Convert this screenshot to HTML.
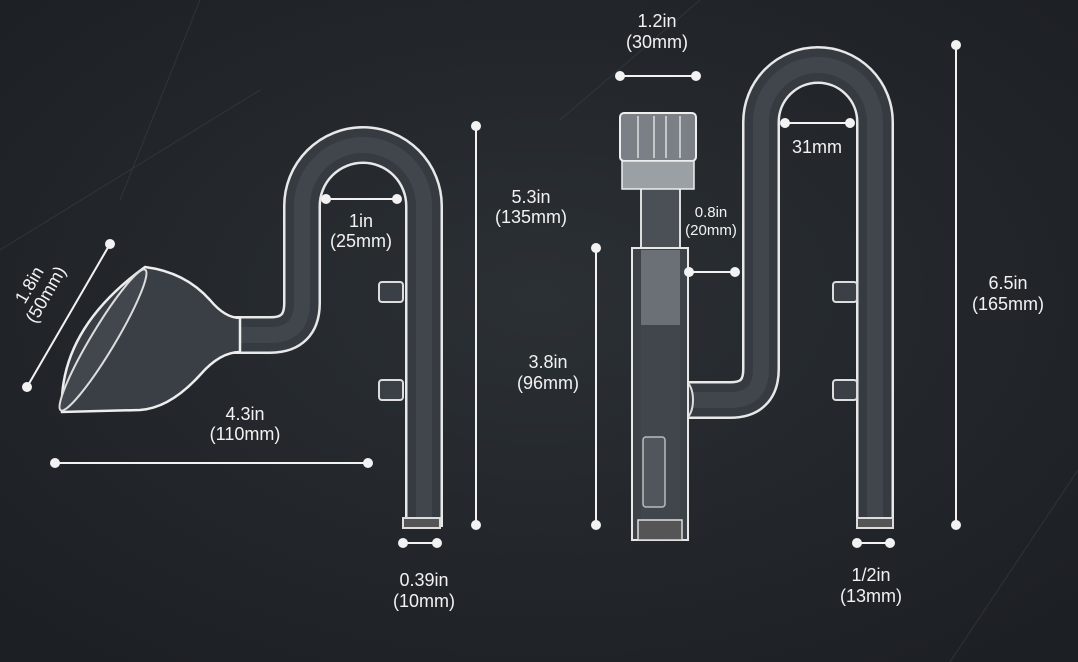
<!DOCTYPE html>
<html><head><style>
html,body{margin:0;padding:0;background:#24282d;}
svg{display:block}
text{font-family:"Liberation Sans",sans-serif;fill:#f2f2f2;font-size:18px;text-anchor:middle}
</style></head><body>
<svg width="1078" height="662" viewBox="0 0 1078 662" xmlns="http://www.w3.org/2000/svg">
<defs>
<radialGradient id="bg" cx="50%" cy="45%" r="70%">
<stop offset="0" stop-color="#2b3035"/><stop offset="1" stop-color="#1c1f23"/>
</radialGradient>
</defs>
<rect width="1078" height="662" fill="url(#bg)"/>
<g stroke="#3a4047" stroke-width="1" opacity="0.6">
<line x1="0" y1="250" x2="260" y2="90"/><line x1="950" y1="662" x2="1078" y2="470"/>
<line x1="200" y1="0" x2="120" y2="200"/><line x1="700" y1="0" x2="560" y2="120"/>
</g>

<g fill="none" stroke-linecap="butt" stroke-linejoin="round">
<path d="M230 335 L270 335 Q302 335 302 303 L302 206 A61 61 0 0 1 424 206 L424 527" stroke="#e8e8e8" stroke-width="38"/>
<path d="M230 335 L270 335 Q302 335 302 303 L302 206 A61 61 0 0 1 424 206 L424 527" stroke="#363b41" stroke-width="33"/>
<path d="M230 335 L270 335 Q302 335 302 303 L302 206 A61 61 0 0 1 424 206 L424 527" stroke="#40464c" stroke-width="16"/>
</g>
<rect x="403" y="518" width="37" height="10" fill="#555" stroke="#ddd" stroke-width="2"/>
<rect x="379" y="282" width="24" height="20" rx="3" fill="#3b4046" stroke="#ddd" stroke-width="2"/>
<rect x="379" y="380" width="24" height="20" rx="3" fill="#3b4046" stroke="#ddd" stroke-width="2"/>
<path d="M145 267 Q185 272 210 300 Q225 318 240 318 L240 352 Q220 352 200 375 Q170 408 140 410 L62 412 Q58 330 145 267 Z" fill="#3a3f45" stroke="#eee" stroke-width="2.5"/>
<ellipse cx="103" cy="340" rx="12" ry="82" transform="rotate(31 103 340)" fill="#41474d" stroke="#ddd" stroke-width="2"/>

<g fill="none" stroke-linejoin="round">
<path d="M685 400 L730 400 Q761 400 761 369 L761 122 A57 57 0 0 1 875 122 L875 527" stroke="#e8e8e8" stroke-width="38"/>
<path d="M685 400 L730 400 Q761 400 761 369 L761 122 A57 57 0 0 1 875 122 L875 527" stroke="#363b41" stroke-width="33"/>
<path d="M685 400 L730 400 Q761 400 761 369 L761 122 A57 57 0 0 1 875 122 L875 527" stroke="#40464c" stroke-width="16"/>
</g>
<ellipse cx="685" cy="400" rx="8" ry="18" fill="#3b4046" stroke="#ddd" stroke-width="2"/>
<rect x="857" y="518" width="36" height="10" fill="#555" stroke="#ddd" stroke-width="2"/>
<rect x="833" y="282" width="24" height="20" rx="3" fill="#3b4046" stroke="#ddd" stroke-width="2"/>
<rect x="833" y="380" width="24" height="20" rx="3" fill="#3b4046" stroke="#ddd" stroke-width="2"/>

<rect x="641" y="180" width="39" height="70" fill="#4a5056" stroke="#ddd" stroke-width="2"/>
<rect x="632" y="248" width="56" height="292" fill="#3d4248" stroke="#e8e8e8" stroke-width="2"/>
<rect x="641" y="250" width="39" height="75" fill="#6a7075"/>
<rect x="641" y="325" width="39" height="210" fill="#41464c"/>
<rect x="643" y="437" width="22" height="70" rx="3" fill="#50565b" stroke="#bbb" stroke-width="1.5"/>
<rect x="638" y="520" width="44" height="20" fill="#555" stroke="#ddd" stroke-width="1.5"/>
<rect x="620" y="113" width="76" height="48" rx="4" fill="#7a8085" stroke="#eee" stroke-width="2"/>
<rect x="622" y="161" width="72" height="28" fill="#9aa0a4" stroke="#eee" stroke-width="1.5"/>
<g stroke="#ddd" stroke-width="1.5"><line x1="638" y1="116" x2="638" y2="158"/><line x1="654" y1="116" x2="654" y2="158"/><line x1="666" y1="116" x2="666" y2="158"/><line x1="680" y1="116" x2="680" y2="158"/></g>

<g stroke="#f2f2f2" stroke-width="2" fill="#f2f2f2">
<line x1="110" y1="244" x2="27" y2="387"/><circle cx="110" cy="244" r="4"/><circle cx="27" cy="387" r="4"/>
<line x1="55" y1="463" x2="368" y2="463"/><circle cx="55" cy="463" r="4"/><circle cx="368" cy="463" r="4"/>
<line x1="326" y1="199" x2="397" y2="199"/><circle cx="326" cy="199" r="4"/><circle cx="397" cy="199" r="4"/>
<line x1="476" y1="126" x2="476" y2="525"/><circle cx="476" cy="126" r="4"/><circle cx="476" cy="525" r="4"/>
<line x1="403" y1="543" x2="437" y2="543"/><circle cx="403" cy="543" r="4"/><circle cx="437" cy="543" r="4"/>
<line x1="620" y1="76" x2="696" y2="76"/><circle cx="620" cy="76" r="4"/><circle cx="696" cy="76" r="4"/>
<line x1="596" y1="248" x2="596" y2="525"/><circle cx="596" cy="248" r="4"/><circle cx="596" cy="525" r="4"/>
<line x1="689" y1="272" x2="735" y2="272"/><circle cx="689" cy="272" r="4"/><circle cx="735" cy="272" r="4"/>
<line x1="785" y1="123" x2="850" y2="123"/><circle cx="785" cy="123" r="4"/><circle cx="850" cy="123" r="4"/>
<line x1="956" y1="45" x2="956" y2="525"/><circle cx="956" cy="45" r="4"/><circle cx="956" cy="525" r="4"/>
<line x1="857" y1="543" x2="890" y2="543"/><circle cx="857" cy="543" r="4"/><circle cx="890" cy="543" r="4"/>
</g>

<g transform="translate(38 290) rotate(-60)"><text x="0" y="-4">1.8in</text><text x="0" y="15">(50mm)</text></g>
<text x="245" y="420">4.3in</text><text x="245" y="440">(110mm)</text>
<text x="361" y="227">1in</text><text x="361" y="247">(25mm)</text>
<text x="531" y="203">5.3in</text><text x="531" y="223">(135mm)</text>
<text x="424" y="586">0.39in</text><text x="424" y="607">(10mm)</text>
<text x="657" y="27">1.2in</text><text x="657" y="48">(30mm)</text>
<text x="548" y="368">3.8in</text><text x="548" y="389">(96mm)</text>
<text x="711" y="217" style="font-size:15px">0.8in</text><text x="711" y="235" style="font-size:15px">(20mm)</text>
<text x="817" y="153">31mm</text>
<text x="1008" y="289">6.5in</text><text x="1008" y="310">(165mm)</text>
<text x="871" y="581">1/2in</text><text x="871" y="602">(13mm)</text>
</svg>
</body></html>
